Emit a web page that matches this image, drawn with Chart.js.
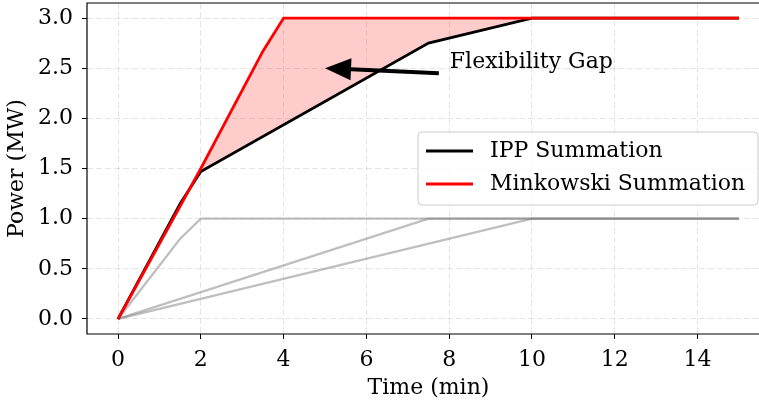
<!DOCTYPE html>
<html>
<head>
<meta charset="utf-8">
<script src="https://cdn.jsdelivr.net/npm/chart.js@4.4.1/dist/chart.umd.min.js"></script>
<style>
  html, body { margin: 0; padding: 0; background: #fff; overflow: hidden; }
  #wrap { width: 759px; height: 404px; overflow: hidden; }
</style>
</head>
<body>
<div id="wrap"><canvas id="myChart" width="775" height="404"></canvas></div>
<script>
// time (min) / power (MW)
var unitAX = [0, 1.5, 2, 15];
var unitAY = [0, 0.8, 1.0, 1.0];
var unitBX = [0, 7.5, 15];
var unitBY = [0, 1.0, 1.0];
var unitCX = [0, 10, 15];
var unitCY = [0, 1.0, 1.0];
var ippX = [0, 1.5, 2, 7.5, 10, 15];
var ippY = [0, 1.15, 1.47, 2.75, 3.0, 3.0];
var minkX = [0, 2, 3.5, 4, 15];
var minkY = [0, 1.5, 2.67, 3.0, 3.0];
var xTicks = [0, 2, 4, 6, 8, 10, 12, 14];
var yTicks = [0, 0.5, 1.0, 1.5, 2.0, 2.5, 3.0];
var gapLabel = 'Flexibility Gap';
var gapArrowFrom = [7.75, 2.45];
var gapArrowTo = [5.0, 2.5];

var FONT = "'DejaVu Serif', serif";

function pts(xs, ys) {
    var out = [];
    for (var i = 0; i < xs.length; i++) out.push({x: xs[i], y: ys[i]});
    return out;
}

var grayColor = 'rgba(128,128,128,0.5)';

var data = {
    datasets: [
        { label: 'unit A', data: pts(unitAX, unitAY), borderColor: grayColor, borderWidth: 2.3, fill: false, order: 2 },
        { label: 'unit B', data: pts(unitBX, unitBY), borderColor: grayColor, borderWidth: 2.3, fill: false, order: 2 },
        { label: 'unit C', data: pts(unitCX, unitCY), borderColor: grayColor, borderWidth: 2.3, fill: false, order: 2 },
        { label: 'IPP Summation', data: pts(ippX, ippY), borderColor: '#000000', borderWidth: 2.8, fill: false, order: 1 },
        { label: 'Minkowski Summation', data: pts(minkX, minkY), borderColor: '#ff0000', borderWidth: 2.8,
          fill: '-1', backgroundColor: 'rgba(255,0,0,0.2)', order: 0 }
    ]
};

// frame, arrow annotation and legend box
var extras = {
    id: 'extras',
    afterDatasetsDraw: function(chart) {
        var ctx = chart.ctx;
        var a = chart.chartArea;
        var xs = chart.scales.x, ys = chart.scales.y;
        ctx.save();
        ctx.strokeStyle = '#000';
        ctx.lineWidth = 1.2;
        ctx.beginPath();
        ctx.moveTo(a.right, a.top);
        ctx.lineTo(a.left, a.top);
        ctx.lineTo(a.left, a.bottom);
        ctx.lineTo(a.right, a.bottom);
        ctx.stroke();

        // arrow
        var x1 = xs.getPixelForValue(gapArrowFrom[0]), y1 = ys.getPixelForValue(gapArrowFrom[1]);
        var x2 = xs.getPixelForValue(gapArrowTo[0]), y2 = ys.getPixelForValue(gapArrowTo[1]);
        var ang = Math.atan2(y2 - y1, x2 - x1);
        var headLen = 26, headW = 11;
        var bx = x2 - headLen * Math.cos(ang), by = y2 - headLen * Math.sin(ang);
        ctx.strokeStyle = '#000';
        ctx.lineWidth = 4;
        ctx.beginPath();
        ctx.moveTo(x1, y1);
        ctx.lineTo(bx, by);
        ctx.stroke();
        ctx.fillStyle = '#000';
        ctx.beginPath();
        ctx.moveTo(x2, y2);
        ctx.lineTo(bx + headW * Math.sin(ang), by - headW * Math.cos(ang));
        ctx.lineTo(bx - headW * Math.sin(ang), by + headW * Math.cos(ang));
        ctx.closePath();
        ctx.fill();

        ctx.font = '22px ' + FONT;
        ctx.textAlign = 'left';
        ctx.textBaseline = 'middle';
        ctx.fillText(gapLabel, x1 + 11, y1 - 11);

        // legend
        var items = chart.data.datasets.slice(3);
        var lx = 418, ly = 132, lw = 340, lh = 73, r = 4;
        ctx.fillStyle = 'rgba(255,255,255,0.85)';
        ctx.strokeStyle = '#cccccc';
        ctx.lineWidth = 1;
        ctx.beginPath();
        ctx.moveTo(lx + r, ly);
        ctx.arcTo(lx + lw, ly, lx + lw, ly + lh, r);
        ctx.arcTo(lx + lw, ly + lh, lx, ly + lh, r);
        ctx.arcTo(lx, ly + lh, lx, ly, r);
        ctx.arcTo(lx, ly, lx + lw, ly, r);
        ctx.closePath();
        ctx.fill();
        ctx.stroke();
        ctx.font = '22px ' + FONT;
        items.forEach(function(ds, i) {
            var yy = 151 + i * 33;
            ctx.strokeStyle = ds.borderColor;
            ctx.lineWidth = 2.8;
            ctx.beginPath();
            ctx.moveTo(426, yy);
            ctx.lineTo(473, yy);
            ctx.stroke();
            ctx.fillStyle = '#000';
            ctx.fillText(ds.label, 490, yy);
        });
        ctx.restore();
    }
};

var gridOpts = { color: 'rgba(0,0,0,0.1)', tickColor: '#000', tickLength: 5, tickBorderDash: [] };
var borderOpts = { display: false, dash: [6, 3] };

var ctx = document.getElementById('myChart');
var myChart = new Chart(ctx, {
    type: 'line',
    data: data,
    plugins: [extras],
    options: {
        responsive: false,
        animation: false,
        devicePixelRatio: 1,
        layout: { padding: { left: 0, top: 3, right: 5, bottom: 0 } },
        elements: { point: { radius: 0 }, line: { tension: 0 } },
        plugins: {
            legend: { display: false },
            tooltip: { enabled: false },
            filler: { drawTime: 'beforeDatasetsDraw' }
        },
        scales: {
            x: {
                type: 'linear',
                min: -0.75,
                max: 15.75,
                afterBuildTicks: function(s) { s.ticks = xTicks.map(function(v) { return {value: v}; }); },
                afterFit: function(s) { s.height = 70; s.paddingLeft = 0; s.paddingRight = 0; },
                ticks: { color: '#000', font: { family: FONT, size: 22 }, padding: 8, maxRotation: 0,
                         callback: function(v) { return String(v); } },
                grid: gridOpts,
                border: borderOpts,
                title: { display: true, text: 'Time (min)', color: '#000', font: { family: FONT, size: 22 }, padding: { top: 0, bottom: 3 } }
            },
            y: {
                type: 'linear',
                min: -0.15,
                max: 3.15,
                afterBuildTicks: function(s) { s.ticks = yTicks.map(function(v) { return {value: v}; }); },
                afterFit: function(s) { s.width = 87; s.paddingTop = 0; s.paddingBottom = 0; },
                ticks: { color: '#000', font: { family: FONT, size: 22 }, padding: 9,
                         callback: function(v) { return Number(v).toFixed(1); } },
                grid: gridOpts,
                border: borderOpts,
                title: { display: true, text: 'Power (MW)', color: '#000', font: { family: FONT, size: 22 }, padding: { top: 4, bottom: 0 } }
            }
        }
    }
});
</script>
</body>
</html>
